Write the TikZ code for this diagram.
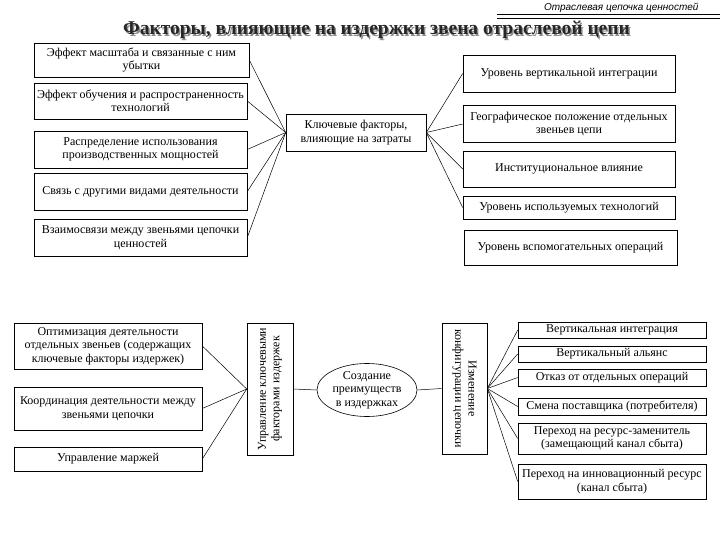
\documentclass[tikz,border=0pt]{standalone}
\usepackage{fontspec}
\setmainfont{Liberation Serif}
\newfontfamily\hdrfont{Liberation Sans}
\usetikzlibrary{shapes.geometric}
\tikzset{
  box/.style={draw, line width=0.6pt, inner sep=1pt, align=center, font=\fontsize{12}{13.5}\selectfont},
  bx/.style 2 args={box, minimum width=#1pt, minimum height=#2pt},
  conn/.style={line width=0.5pt},
}
\begin{document}
\begin{tikzpicture}[x=1pt,y=-1pt]
\useasboundingbox (0,0) rectangle (720,540);
% header
\node[anchor=east, font=\hdrfont\itshape\fontsize{10}{11}\selectfont] (hdr) at (702,8) {Отраслевая цепочка ценностей};
\coordinate (hl1) at (497,15);
\coordinate (hr1) at (720,15);
\coordinate (hl2) at (497,18);
\coordinate (hr2) at (720,18);
\draw[line width=1pt] (hl1) -- (hr1);
\draw[line width=0.8pt] (hl2) -- (hr2);
% title with shadow
\node[font=\bfseries\fontsize{19.5}{22}\selectfont, text=black!45] (tsh) at (378,31.5) {Факторы, влияющие на издержки звена отраслевой цепи};
\node[font=\bfseries\fontsize{19.5}{22}\selectfont, text=black!85] (title) at (376.5,30) {Факторы, влияющие на издержки звена отраслевой цепи};
% upper left boxes
\node[bx={215}{34}] (l1) at (141.5,60) {Эффект масштаба и связанные с ним\\убытки};
\node[bx={213}{36}] (l2) at (140.5,101) {Эффект обучения и распространенность\\технологий};
\node[bx={213}{37}] (l3) at (140.5,149.5) {Распределение использования\\производственных мощностей};
\node[bx={213}{37}] (l4) at (140.5,191.5) {Связь с другими видами деятельности};
\node[bx={213}{37}] (l5) at (140.5,237.5) {Взаимосвязи между звеньями цепочки\\ценностей};
% center
\node[bx={140}{37}] (ctr) at (356,132.5) {Ключевые факторы,\\влияющие на затраты};
% upper right boxes
\node[bx={212}{37}] (r1) at (569,73.5) {Уровень вертикальной интеграции};
\node[bx={212}{37}] (r2) at (569,124) {Географическое положение отдельных\\звеньев цепи};
\node[bx={212}{36}] (r3) at (569,169) {Институциональное влияние};
\node[bx={212}{23}] (r4) at (569,207.5) {Уровень используемых технологий};
\node[bx={213}{35}] (r5) at (570.5,247.5) {Уровень вспомогательных операций};
% connectors upper
\foreach \n in {l1,l2,l3,l4,l5} \draw[conn] (\n.east) -- (ctr.west);
\foreach \n in {r1,r2,r3,r4} \draw[conn] (ctr.east) -- (\n.west);
% lower left boxes
\node[bx={188}{46}] (bl1) at (108,346) {Оптимизация деятельности\\отдельных звеньев (содержащих\\ключевые факторы издержек)};
\node[bx={188}{43}] (bl2) at (108,408.5) {Координация деятельности между\\звеньями цепочки};
\node[bx={188}{24}] (bl3) at (108,459) {Управление маржей};
% vertical boxes
\node[bx={132}{46}, rotate=90] (vb1) at (270,389) {Управление ключевыми\\факторами издержек};
\node[draw, ellipse, line width=0.6pt, inner sep=0pt, minimum width=100pt, minimum height=51pt, align=center, font=\fontsize{12}{13.5}\selectfont] (ell) at (367,390) {Создание\\преимуществ\\в издержках};
\node[bx={131}{45}, rotate=-90] (vb2) at (464.5,388.5) {Изменение\\конфигурации цепочки};
% lower right boxes
\node[bx={188}{16}] (br1) at (612,330) {Вертикальная интеграция};
\node[bx={188}{16}] (br2) at (612,354) {Вертикальный альянс};
\node[bx={188}{17}] (br3) at (612,377.5) {Отказ от отдельных операций};
\node[bx={188}{17}] (br4) at (612,406.5) {Смена поставщика (потребителя)};
\node[bx={188}{31}] (br5) at (612,438.5) {Переход на ресурс-заменитель\\(замещающий канал сбыта)};
\node[bx={188}{35}] (br6) at (612,481.5) {Переход на инновационный ресурс\\(канал сбыта)};
% connectors lower
\foreach \n in {bl1,bl2,bl3} \draw[conn] (\n.east) -- (vb1.north);
\draw[conn] (vb1.south) -- (ell.west);
\draw[conn] (ell.east) -- (vb2.south);
\foreach \n in {br1,br2,br3,br4,br5,br6} \draw[conn] (vb2.north) -- (\n.west);
\end{tikzpicture}
\end{document}
